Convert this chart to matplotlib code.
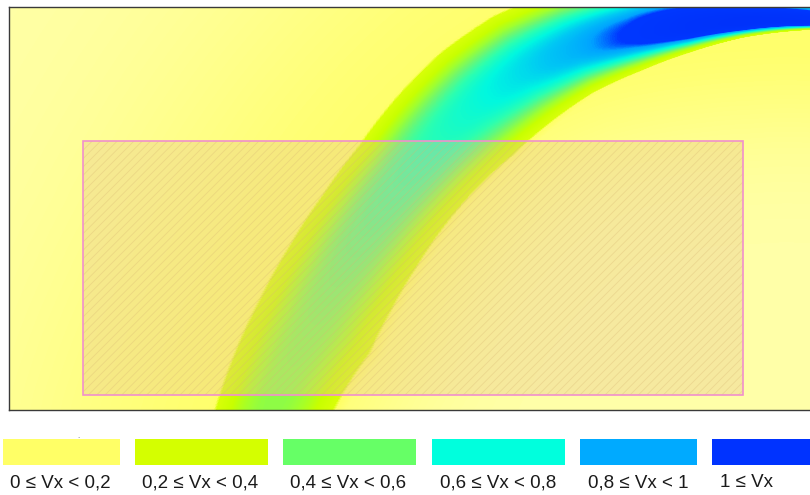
import numpy as np
import matplotlib
matplotlib.use("Agg")
import matplotlib.pyplot as plt
from matplotlib.colors import LinearSegmentedColormap, Normalize
from matplotlib.patches import Rectangle

# ---------------- data ----------------
# The jet bends round a centre point; stations are given by angle (deg) about it.
bend_centre = (7.71, -1.43)
phi_deg      = [168, 160, 154, 148, 142, 136, 130, 124, 118, 112, 106, 100, 94, 86, 80]
core_radius  = [5.32, 5.24, 5.20, 5.21, 5.25, 5.30, 5.36, 5.42, 5.45, 5.43, 5.38, 5.34, 5.32, 5.33, 5.33]
outer_radius = [5.84, 5.81, 5.79, 5.79, 5.81, 5.86, 5.96, 6.05, 6.09, 6.05, 5.95, 5.80, 5.64, 5.55, 5.50]
inner_radius = [4.76, 4.65, 4.56, 4.58, 4.62, 4.68, 4.74, 4.79, 4.88, 4.97, 5.02, 5.09, 5.17, 5.25, 5.27]
peak_vx      = [0.45, 0.46, 0.48, 0.51, 0.55, 0.59, 0.64, 0.70, 0.78, 0.88, 1.02, 1.25, 1.35, 1.30, 1.30]
background_vx = 0.18
halo_outer = 2.5
halo_inner = 1.2

domain_x = [0.0, 8.01]
domain_y = [0.0, 4.03]
zone_x = [0.74, 7.34]
zone_y = [0.15, 2.69]

class_labels = ["0 ≤ Vx < 0,2", "0,2 ≤ Vx < 0,4", "0,4 ≤ Vx < 0,6",
                "0,6 ≤ Vx < 0,8", "0,8 ≤ Vx < 1", "1 ≤ Vx"]
class_colors = ["#FFFF66", "#D4FF00", "#66FF66", "#00FFDD", "#00AAFF", "#0033FF"]

# colour ramp (value, colour)
ramp_values = [0.0, 0.19, 0.21, 0.32, 0.42, 0.52, 0.62, 0.72, 0.82, 0.92, 0.99, 1.5]
ramp_colors = ["#FFFFA8", "#FFFF66", "#D8FF08", "#C8FF00", "#A0FF30", "#6CF872",
               "#2CFFB0", "#00F8E0", "#00C8F4", "#00A4FF", "#0038FF", "#0030F8"]

# ---------------- field ----------------
W, H = 801, 403
gx = np.linspace(domain_x[0], domain_x[1], W)
gy = np.linspace(domain_y[0], domain_y[1], H)
X, Y = np.meshgrid(gx, gy)
dX = X - bend_centre[0]; dY = Y - bend_centre[1]
R = np.hypot(dX, dY)
PHI = np.degrees(np.arctan2(dY, dX))

ph = np.array(phi_deg)[::-1]
rc = np.interp(PHI, ph, np.array(core_radius)[::-1])
ro = np.interp(PHI, ph, np.array(outer_radius)[::-1])
ri = np.interp(PHI, ph, np.array(inner_radius)[::-1])
pk = np.interp(PHI, ph, np.array(peak_vx)[::-1])

outer = R >= rc
dist = np.abs(R - rc)
hw = np.where(outer, ro - rc, rc - ri)
core = pk * np.exp(-np.log(pk / 0.2) * (dist / hw) ** 2.5)
halo_L = np.where(outer, halo_outer, halo_inner)
bg = background_vx * np.exp(-(dist / halo_L) ** 2)
V = np.maximum(core, bg)

vmax = ramp_values[-1]
cmap = LinearSegmentedColormap.from_list(
    "vx", [(v / vmax, c) for v, c in zip(ramp_values, ramp_colors)])

# ---------------- figure ----------------
plt.rcParams['hatch.linewidth'] = 0.6
fig = plt.figure(figsize=(8.1, 4.95), dpi=100)
FW, FH = 810, 495
ax = fig.add_axes([9 / FW, (FH - 410) / FH, (FW - 9) / FW, 403 / FH])
ax.imshow(V, extent=[domain_x[0], domain_x[1], domain_y[0], domain_y[1]],
          origin="lower", aspect="auto", cmap=cmap,
          norm=Normalize(0, vmax), interpolation="bilinear")
ax.set_xlim(domain_x); ax.set_ylim(domain_y)
ax.set_xticks([]); ax.set_yticks([])
for s in ["left", "top", "bottom"]:
    ax.spines[s].set_color("#3a3a3a"); ax.spines[s].set_linewidth(1.0)
ax.spines["right"].set_visible(False)

zw = zone_x[1] - zone_x[0]; zh = zone_y[1] - zone_y[0]
ax.add_patch(Rectangle((zone_x[0], zone_y[0]), zw, zh,
                       facecolor="#E8C090", alpha=0.35, edgecolor="none", zorder=3))
ax.add_patch(Rectangle((zone_x[0], zone_y[0]), zw, zh, facecolor="none",
                       edgecolor=(0.85, 0.72, 0.45, 0.35), linewidth=0,
                       hatch="////", zorder=4))
ax.add_patch(Rectangle((zone_x[0], zone_y[0]), zw, zh, facecolor="none",
                       edgecolor="#F090CC", linewidth=1.2, zorder=5))

# ---------------- legend ----------------
box_left = [3, 135, 283, 432, 580, 712]
box_right = [120, 268, 416, 565, 697, 812]
for lbl, col, l, r in zip(class_labels, class_colors, box_left, box_right):
    fig.add_artist(Rectangle((l / FW, (FH - 465) / FH), (r - l) / FW, 26 / FH,
                             transform=fig.transFigure, facecolor=col,
                             edgecolor="none"))
    fig.text((l + 7.5) / FW, (FH - 482.5) / FH, lbl, ha="left", va="center",
             fontsize=13.5, color="#1a1a1a",
             family=["Liberation Sans", "DejaVu Sans"])
fig.text(78 / FW, (FH - 436) / FH, ".", fontsize=5, color="#556677",
         ha="center", va="center")

fig.savefig("out.png", dpi=100)
